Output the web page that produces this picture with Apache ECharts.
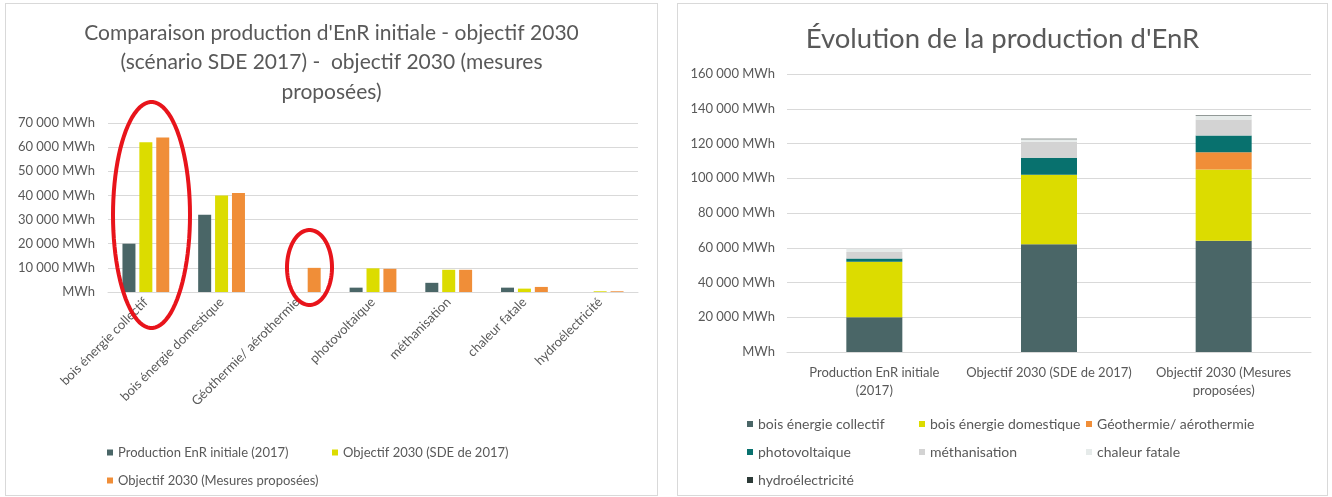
<!DOCTYPE html>
<html lang="fr">
<head>
<meta charset="utf-8">
<title>Production d'EnR</title>
<script src="https://cdn.jsdelivr.net/npm/echarts@6/dist/echarts.min.js"></script>
<style>
  html, body { margin: 0; padding: 0; background: #ffffff; }
  body { width: 1332px; height: 497px; position: relative; overflow: hidden; }
  .panel { position: absolute; border: 1px solid #d9d9d9; background: #fff; }
  #left { left: 5px; top: 3px; width: 651px; height: 491px; }
  #right { left: 677px; top: 3px; width: 649px; height: 491px; }
</style>
</head>
<body>
<div id="left" class="panel"></div>
<div id="right" class="panel"></div>
<script>
// Scenarios (categories of the stacked chart, series of the grouped chart)
const scenarios = [
  'Production EnR initiale (2017)',
  'Objectif 2030 (SDE de 2017)',
  'Objectif 2030 (Mesures proposées)'
];
const scenarioAxisLabels = [
  'Production EnR initiale\n(2017)',
  'Objectif 2030 (SDE de 2017)',
  'Objectif 2030 (Mesures\nproposées)'
];

// Energy sources (categories of the grouped chart, series of the stacked chart)
const sources = [
  'bois énergie collectif',
  'bois énergie domestique',
  'Géothermie/ aérothermie',
  'photovoltaique',
  'méthanisation',
  'chaleur fatale',
  'hydroélectricité'
];

// Production in MWh per source, one value per scenario
const boisCollectif    = [20000, 62000, 64000];
const boisDomestique   = [32000, 40000, 41000];
const geothermie       = [0, 0, 10000];
const photovoltaique   = [1800, 9800, 9600];
const methanisation    = [3800, 9200, 9200];
const chaleurFatale    = [1800, 1400, 2100];
const hydroelectricite = [0, 300, 300];

const sourceValues = [boisCollectif, boisDomestique, geothermie, photovoltaique,
                      methanisation, chaleurFatale, hydroelectricite];

const leftTicks = { max: 70000, interval: 10000 };
const rightTicks = { max: 160000, interval: 20000 };

const scenarioColors = ['#4a6667', '#dcdc00', '#f08e38'];
const sourceColors = ['#4a6667', '#dcdc00', '#f08e38', '#08716e', '#d3d3d3', '#e6ebea', '#2c3a37'];

const FONT = 'Lato, "Open Sans", sans-serif';
const GREY = '#595959';

function mwh(v) {
  if (v === 0) return 'MWh';
  return String(v).replace(/\B(?=(\d{3})+(?!\d))/g, ' ') + ' MWh';
}

// Outline of an ellipse as polygon points (hand-drawn highlight marks)
function ellipsePoints(cx, cy, rx, ry) {
  const pts = [];
  for (let i = 0; i < 90; i++) {
    const a = (i / 90) * Math.PI * 2;
    pts.push([cx + rx * Math.cos(a), cy + ry * Math.sin(a)]);
  }
  return pts;
}

function legendItem(name, x, y, size) {
  return {
    data: [name], left: x, top: y,
    icon: 'rect', itemWidth: 6, itemHeight: 6,
    textStyle: { color: GREY, fontSize: size, fontFamily: FONT },
    selectedMode: false
  };
}

// ---------- Grouped bar chart ----------
const left = echarts.init(document.getElementById('left'), null, { renderer: 'canvas' });
const leftLegends = [
  legendItem(scenarios[0], 96, 437, 13),
  legendItem(scenarios[1], 321, 437, 13),
  legendItem(scenarios[2], 96, 465, 13)
];

left.setOption({
  animation: false,
  textStyle: { fontFamily: FONT },
  title: {
    text: "Comparaison production d'EnR initiale - objectif 2030\n(scénario SDE 2017) -  objectif 2030 (mesures\nproposées)",
    left: 'center', top: 9,
    textStyle: { color: GREY, fontSize: 21, fontWeight: 'normal', lineHeight: 29.5, fontFamily: FONT }
  },
  legend: leftLegends,
  grid: { left: 102, top: 119, width: 530, height: 169, containLabel: false },
  xAxis: {
    type: 'category', data: sources,
    axisLine: { show: true, lineStyle: { color: '#d9d9d9' } },
    axisTick: { show: false },
    axisLabel: { interval: 0, rotate: 45, margin: 8, color: GREY, fontSize: 13, fontFamily: FONT }
  },
  yAxis: {
    type: 'value', min: 0, max: leftTicks.max, interval: leftTicks.interval,
    axisLine: { show: false }, axisTick: { show: false },
    splitLine: { lineStyle: { color: '#d9d9d9' } },
    axisLabel: { formatter: mwh, margin: 13, color: GREY, fontSize: 13, fontFamily: FONT }
  },
  series: scenarios.map((s, i) => ({
    name: s, type: 'bar', barWidth: 13, barGap: '30%',
    itemStyle: { color: scenarioColors[i] },
    data: sourceValues.map(arr => arr[i])
  })),
  graphic: [
    { type: 'polygon', z: 100, shape: { points: ellipsePoints(145.5, 211, 38.5, 113) },
      style: { fill: null, stroke: '#e8141b', lineWidth: 4 } },
    { type: 'polygon', z: 100, shape: { points: ellipsePoints(303.5, 263.5, 22.5, 37.5) },
      style: { fill: null, stroke: '#e8141b', lineWidth: 4 } }
  ]
});

// ---------- Stacked bar chart ----------
const right = echarts.init(document.getElementById('right'), null, { renderer: 'canvas' });
const colX = [64, 236, 403];
const rowY = [408, 436, 464];
const rightLegendPos = [
  [0, 0], [1, 0], [2, 0],
  [0, 1], [1, 1], [2, 1],
  [0, 2]
];
const rightLegends = sources.map((s, i) =>
  legendItem(s, colX[rightLegendPos[i][0]], rowY[rightLegendPos[i][1]], 14));

right.setOption({
  animation: false,
  textStyle: { fontFamily: FONT },
  title: {
    text: "Évolution de la production d'EnR",
    left: 'center', top: 13,
    textStyle: { color: GREY, fontSize: 27.5, fontWeight: 'normal', lineHeight: 34, fontFamily: FONT }
  },
  legend: rightLegends,
  grid: { left: 109, top: 70, width: 524, height: 278, containLabel: false },
  xAxis: {
    type: 'category', data: scenarioAxisLabels,
    axisLine: { show: true, lineStyle: { color: '#d9d9d9' } },
    axisTick: { show: false },
    axisLabel: { interval: 0, margin: 12, lineHeight: 18, color: GREY, fontSize: 13, fontFamily: FONT }
  },
  yAxis: {
    type: 'value', min: 0, max: rightTicks.max, interval: rightTicks.interval,
    axisLine: { show: false }, axisTick: { show: false },
    splitLine: { lineStyle: { color: '#d9d9d9' } },
    axisLabel: { formatter: mwh, margin: 12, color: GREY, fontSize: 13, fontFamily: FONT }
  },
  series: sources.map((s, i) => ({
    name: s, type: 'bar', stack: 'total', barWidth: 56,
    itemStyle: { color: sourceColors[i] },
    data: sourceValues[i]
  }))
});
</script>
</body>
</html>
